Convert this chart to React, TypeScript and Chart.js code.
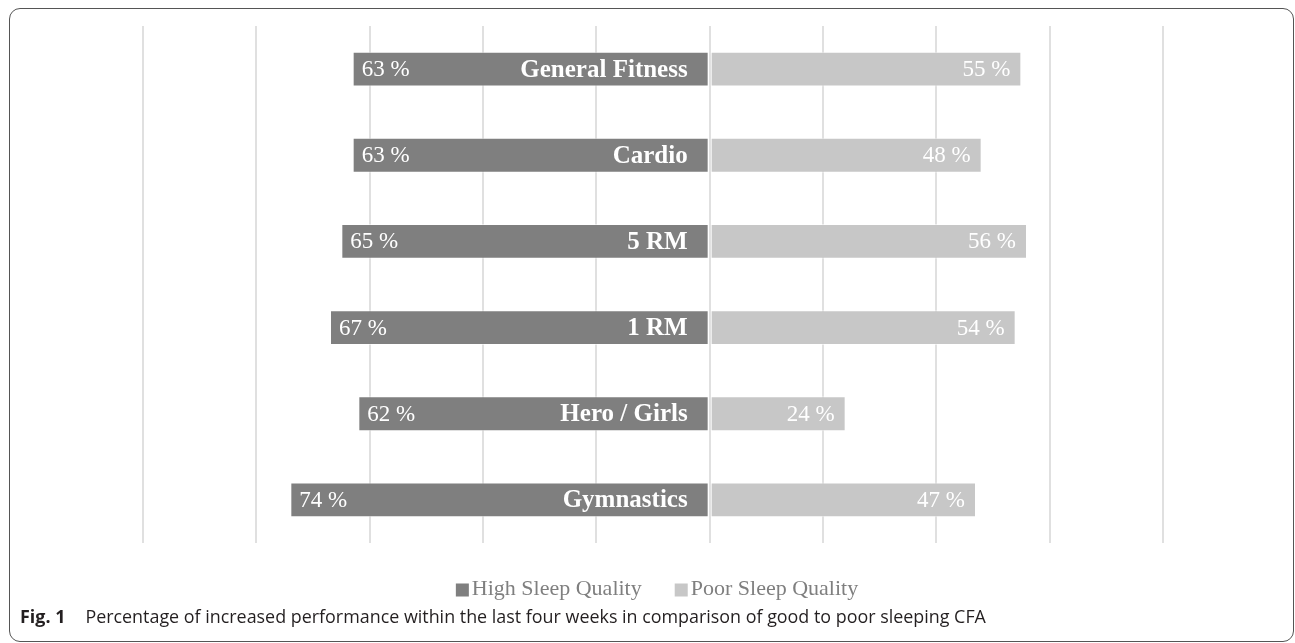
import React, { useEffect, useRef } from "react";
import { Chart, registerables } from "chart.js";

Chart.register(...registerables);

const categories = ["General Fitness", "Cardio", "5 RM", "1 RM", "Hero / Girls", "Gymnastics"];
const highSleep = [63, 63, 65, 67, 62, 74];
const poorSleep = [55, 48, 56, 54, 24, 47];
const seriesNames = ["High Sleep Quality", "Poor Sleep Quality"];
const seriesColors = ["#7f7f7f", "#c7c7c7"];
const axisMin = -100;
const axisMax = 80;
const axisStep = 20;

const SERIF = "'Liberation Serif', 'Times New Roman', serif";

const labelPlugin = {
  id: "barLabels",
  afterDatasetsDraw(chart: any) {
    const ctx = chart.ctx;
    ctx.save();
    ctx.textBaseline = "middle";
    chart.data.datasets.forEach((ds: any, di: number) => {
      const meta = chart.getDatasetMeta(di);
      meta.data.forEach((el: any, i: number) => {
        const v = Math.abs(ds.data[i]);
        const txt = v + " %";
        ctx.fillStyle = "#ffffff";
        ctx.font = "23px " + SERIF;
        if (di === 0) {
          ctx.textAlign = "left";
          ctx.fillText(txt, el.x + 9, el.y + 1);
          ctx.font = "bold 25px " + SERIF;
          ctx.textAlign = "right";
          ctx.fillText(categories[i], el.base - 21, el.y + 1);
        } else {
          ctx.textAlign = "right";
          ctx.fillText(txt, el.x - 11, el.y + 1);
        }
      });
    });
    ctx.restore();
  },
  afterDraw(chart: any) {
    const ctx = chart.ctx;
    const ca = chart.chartArea;
    ctx.save();
    ctx.font = "22px " + SERIF;
    ctx.textBaseline = "middle";
    ctx.textAlign = "left";
    const box = 13;
    const gap = 3;
    const spacing = 33;
    const widths = seriesNames.map((n) => ctx.measureText(n).width);
    const total = widths.reduce((a, w) => a + box + gap + w, 0) + spacing * (seriesNames.length - 1);
    let x = (ca.left + ca.right) / 2 + 4 - total / 2;
    const y = 589;
    seriesNames.forEach((n, i) => {
      ctx.fillStyle = seriesColors[i];
      ctx.fillRect(x, y - box / 2 + 1, box, box);
      x += box + gap;
      ctx.fillStyle = "#7f7f7f";
      ctx.fillText(n, x, y);
      x += widths[i] + spacing;
    });
    ctx.restore();
  },
};

function BarChart() {
  const ref = useRef<HTMLCanvasElement | null>(null);
  useEffect(() => {
    if (!ref.current) return;
    const chart = new Chart(ref.current, {
      type: "bar",
      data: {
        labels: categories,
        datasets: [
          {
            label: seriesNames[0],
            data: highSleep.map((v) => -v),
            backgroundColor: seriesColors[0],
            borderColor: "rgba(255,255,255,0.55)",
            borderWidth: 1,
            borderSkipped: false,
            barPercentage: 1,
            categoryPercentage: 0.405,
          },
          {
            label: seriesNames[1],
            data: poorSleep,
            backgroundColor: seriesColors[1],
            borderColor: "rgba(255,255,255,0.55)",
            borderWidth: 1,
            borderSkipped: false,
            barPercentage: 1,
            categoryPercentage: 0.405,
          },
        ],
      },
      options: {
        indexAxis: "y",
        animation: false,
        responsive: false,
        maintainAspectRatio: false,
        layout: { padding: { left: 143, right: 132, top: 26, bottom: 67 } },
        scales: {
          x: {
            stacked: true,
            min: axisMin,
            max: axisMax,
            ticks: { display: false, stepSize: axisStep },
            grid: { color: "#e0e0e0", lineWidth: 2, drawTicks: false },
            border: { display: false },
            afterFit: (s: any) => {
              s.height = 0;
            },
          },
          y: {
            stacked: true,
            display: false,
            grid: { display: false },
          },
        },
        plugins: {
          tooltip: { enabled: false },
          legend: { display: false },
        },
      },
      plugins: [labelPlugin],
    });
    return () => chart.destroy();
  }, []);
  return (
    <canvas
      ref={ref}
      width={1295}
      height={610}
      style={{ position: "absolute", left: 0, top: 0, width: 1295, height: 610 }}
    />
  );
}

export default function App() {
  return (
    <div style={{ position: "absolute", left: 0, top: 0, width: 1295, height: 643, overflow: "hidden", background: "#fff" }}>
      <div
        style={{
          position: "absolute",
          left: 9,
          top: 8,
          width: 1285,
          height: 634,
          border: "1.5px solid #555",
          borderRadius: 11,
          boxSizing: "border-box",
        }}
      />
      <BarChart />
      <div
        style={{
          position: "absolute",
          left: 20,
          top: 604,
          fontFamily: "'Open Sans', 'Noto Sans', sans-serif",
          fontSize: 17.9,
          color: "#231f20",
          whiteSpace: "nowrap",
        }}
      >
        <b>Fig. 1</b>
        <span style={{ marginLeft: 20 }}>
          Percentage of increased performance within the last four weeks in comparison of good to poor sleeping CFA
        </span>
      </div>
    </div>
  );
}
